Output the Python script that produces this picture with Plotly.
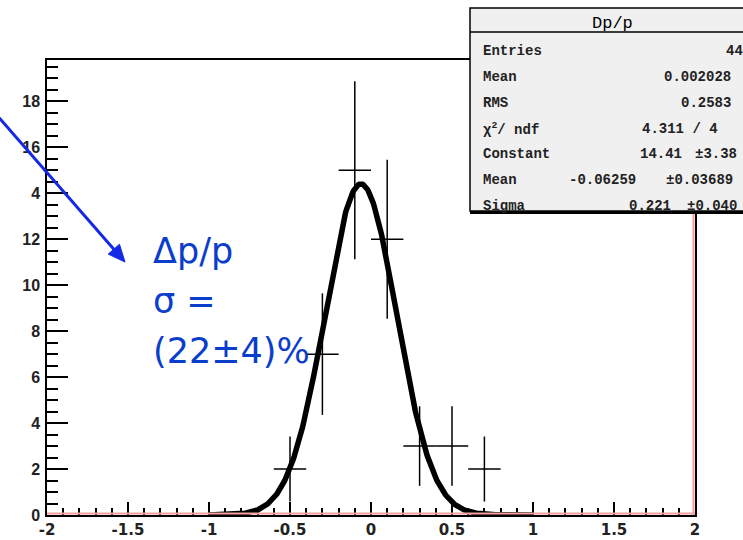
import numpy as np
import plotly.graph_objects as go

# Dp/p histogram: bin centres (width 0.2) and entries per bin
bin_centers = [-0.5, -0.3, -0.1, 0.1, 0.3, 0.5, 0.7]
bin_counts = [2, 7, 15, 12, 3, 3, 2]
bin_half_width = 0.1

# Gaussian fit result
fit_constant = 14.41
fit_mean = -0.06259
fit_sigma = 0.221
fit_lo, fit_hi = -1.0, 1.0

# axis tick labels
x_tick_vals = [-2, -1.5, -1, -0.5, 0, 0.5, 1, 1.5, 2]
x_tick_text = ["-2", "-1.5", "-1", "-0.5", "0", "0.5", "1", "1.5", "2"]
y_tick_vals = [0, 2, 4, 6, 8, 10, 12, 14, 16, 18]
y_tick_text = ["0", "2", "4", "6", "8", "10", "12", "4", "16", "18"]

# statistics box contents
stats_title = "Dp/p"
stats_labels = ["Entries", "Mean", "RMS", "χ<sup>2</sup>/ ndf", "Constant", "Mean", "Sigma"]
stats_values = ["44", "0.002028", "0.2583", "4.311 / 4", "14.41", "-0.06259", "0.221"]
stats_errors = ["", "", "", "", "±3.38", "±0.03689", "±0.040"]

note_lines = ["Δp/p", "σ =", "(22±4)%"]

W, H = 743, 540
L, R, T, B = 47, 695, 60, 515


def px(x):
    return (x - L) / (R - L)


def py(y):
    return (B - y) / (B - T)


counts = np.array(bin_counts, dtype=float)
errs = np.sqrt(counts)

fx = np.linspace(fit_lo, fit_hi, 400)
fy = fit_constant * np.exp(-0.5 * ((fx - fit_mean) / fit_sigma) ** 2)

fig = go.Figure()
fig.add_trace(go.Scatter(
    x=fx, y=fy, mode="lines",
    line=dict(color="black", width=5.5),
    hoverinfo="skip", showlegend=False,
))
fig.add_trace(go.Scatter(
    x=bin_centers, y=bin_counts, mode="markers",
    marker=dict(size=1, color="black"),
    error_y=dict(type="data", array=errs, color="black", thickness=1.5, width=0),
    error_x=dict(type="data", array=[bin_half_width] * len(bin_centers),
                 color="black", thickness=1.5, width=0),
    showlegend=False,
))

shapes = []
# reddish histogram frame lines on bottom and right
shapes.append(dict(type="line", xref="paper", yref="paper",
                   x0=0, x1=1, y0=1.5 / (B - T), y1=1.5 / (B - T),
                   line=dict(color="#f4a0a0", width=2)))
shapes.append(dict(type="line", xref="paper", yref="paper",
                   x0=1 - 1.5 / (R - L), x1=1 - 1.5 / (R - L), y0=0, y1=py(212),
                   line=dict(color="#f4a0a0", width=2)))
# statistics box with shadow and title separator
shapes.append(dict(type="line", xref="paper", yref="paper",
                   x0=px(470), x1=px(760), y0=py(212.5), y1=py(212.5),
                   line=dict(color="black", width=3), layer="above"))
shapes.append(dict(type="rect", xref="paper", yref="paper",
                   x0=px(470), x1=px(760), y0=py(211), y1=py(8),
                   fillcolor="#f0f0f0", line=dict(color="black", width=1.5),
                   layer="above"))
shapes.append(dict(type="line", xref="paper", yref="paper",
                   x0=px(470), x1=px(760), y0=py(32), y1=py(32),
                   line=dict(color="black", width=1.5), layer="above"))

# blue pointer arrow: shaft plus filled head
arrow_color = "#1428e6"
tail = np.array([-25.0, 90.0])
tip = np.array([125.0, 262.0])
u = (tip - tail) / np.linalg.norm(tip - tail)
n = np.array([-u[1], u[0]])
head_len, head_half = 17.0, 7.5
base = tip - head_len * u
c1 = base + head_half * n
c2 = base - head_half * n
shapes.append(dict(type="line", xref="paper", yref="paper",
                   x0=px(tail[0]), y0=py(tail[1]), x1=px(base[0]), y1=py(base[1]),
                   line=dict(color=arrow_color, width=3), layer="above"))
head_path = "M {:.5f},{:.5f} L {:.5f},{:.5f} L {:.5f},{:.5f} Z".format(
    px(tip[0]), py(tip[1]), px(c1[0]), py(c1[1]), px(c2[0]), py(c2[1]))
shapes.append(dict(type="path", xref="paper", yref="paper", path=head_path,
                   fillcolor=arrow_color, line=dict(color=arrow_color, width=1),
                   layer="above"))

ann = []
stat_font = dict(family="Liberation Mono", size=14, color="#222222", weight="bold")
ann.append(dict(xref="paper", yref="paper", x=px(612), y=py(23),
                text=stats_title, showarrow=False, xanchor="center", yanchor="middle",
                font=dict(family="Liberation Mono", size=17, color="black")))
row_y = [51, 77, 103, 128.5, 154, 180, 206]
value_right = [745, 733, 733, 720, 684, 638, 673]
error_right = [None, None, None, None, 739, 735, 739]
for i, name in enumerate(stats_labels):
    ann.append(dict(xref="paper", yref="paper", x=px(481), y=py(row_y[i]),
                    text=name, showarrow=False, xanchor="left", yanchor="middle",
                    font=stat_font))
    ann.append(dict(xref="paper", yref="paper", x=px(value_right[i]), y=py(row_y[i]),
                    text=stats_values[i], showarrow=False, xanchor="right",
                    yanchor="middle", font=stat_font))
    if stats_errors[i]:
        ann.append(dict(xref="paper", yref="paper", x=px(error_right[i]), y=py(row_y[i]),
                        text=stats_errors[i], showarrow=False, xanchor="right",
                        yanchor="middle", font=stat_font))

note_y = [251, 301, 351]
for line, yy in zip(note_lines, note_y):
    ann.append(dict(xref="paper", yref="paper", x=px(151), y=py(yy),
                    text=line, showarrow=False, xanchor="left", yanchor="middle",
                    font=dict(family="DejaVu Sans", size=35, color="#0a3dcc")))

fig.update_layout(
    width=W, height=H, autosize=False,
    margin=dict(l=L, r=W - R, t=T, b=H - B, pad=0, autoexpand=False),
    paper_bgcolor="white", plot_bgcolor="white",
    shapes=shapes, annotations=ann,
    xaxis=dict(range=[-2, 2], showgrid=False, zeroline=False, automargin=False,
               showline=True, linecolor="black", linewidth=1.5, mirror=True,
               ticks="inside", ticklen=13, tickwidth=1.5, tickcolor="black",
               tickvals=x_tick_vals, ticktext=x_tick_text,
               tickfont=dict(family="DejaVu Sans", size=15, color="#222222", weight="bold"),
               ticklabelstandoff=0,
               minor=dict(dtick=0.1, ticks="inside", ticklen=7, tickwidth=1.5,
                          tickcolor="black", showgrid=False)),
    yaxis=dict(range=[0, 19.8], showgrid=False, zeroline=False, automargin=False,
               showline=True, linecolor="black", linewidth=1.5, mirror=True,
               ticks="inside", ticklen=21, tickwidth=1.5, tickcolor="black",
               tickvals=y_tick_vals, ticktext=y_tick_text,
               tickfont=dict(family="Liberation Sans", size=16, color="#222222", weight="bold"),
               ticklabelstandoff=2,
               minor=dict(dtick=0.5, ticks="inside", ticklen=11, tickwidth=1.5,
                          tickcolor="black", showgrid=False)),
)

fig.write_html("out.html")
